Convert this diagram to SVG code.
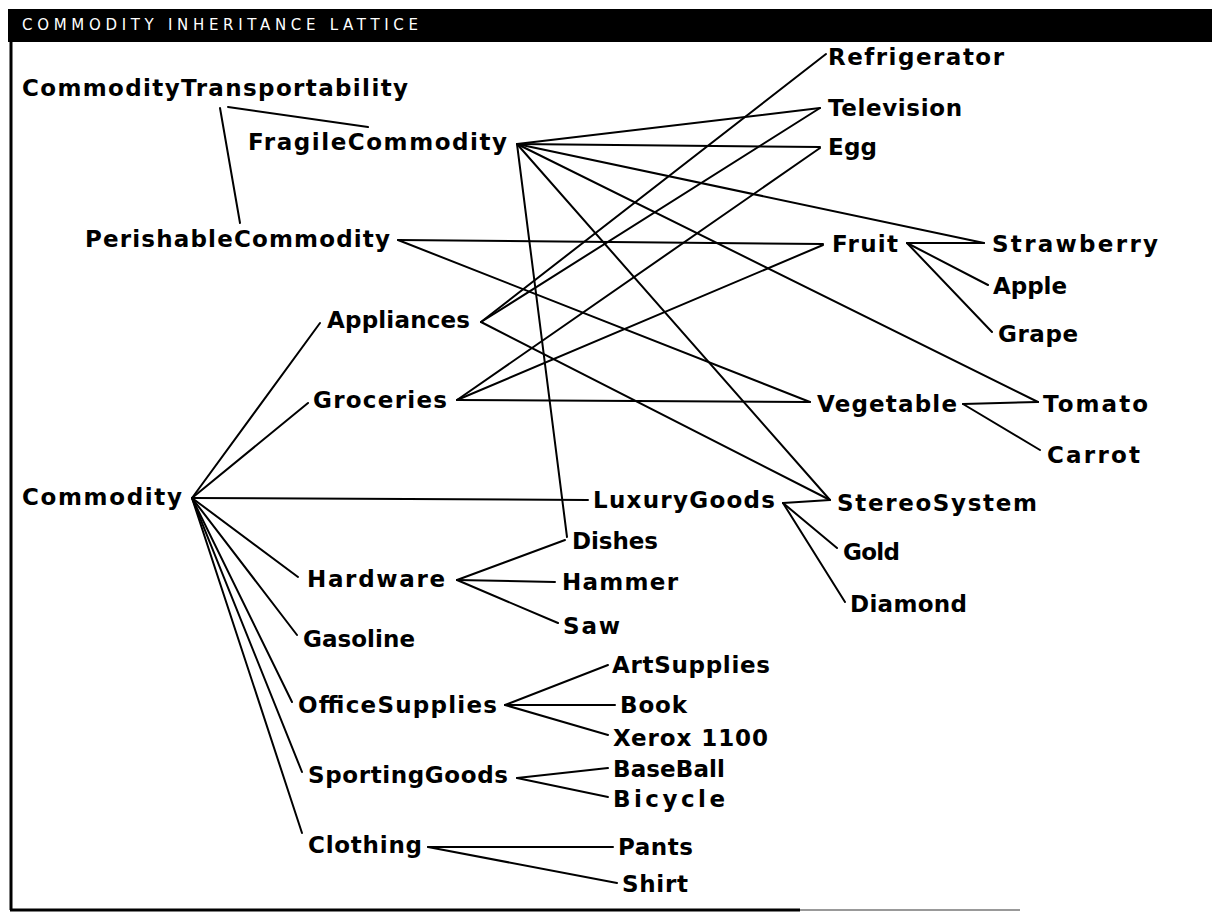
<svg xmlns="http://www.w3.org/2000/svg" width="1212" height="914" viewBox="0 0 1212 914">
<style>
.n{font-family:"DejaVu Sans","Liberation Sans",Arial,sans-serif;font-weight:bold;font-size:23px;fill:#000}
.t{font-family:"DejaVu Sans","Liberation Sans",Arial,sans-serif;font-size:15px;fill:#fff}
#edges line{stroke:#000;stroke-width:2;stroke-linecap:round}
</style>
<rect width="1212" height="914" fill="#fff"/>
<g id="frame">
<rect x="8" y="9" width="1204" height="33" fill="#000"/>
<text class="t" x="22" y="30" textLength="396" lengthAdjust="spacing">COMMODITY INHERITANCE LATTICE</text>
<line x1="11" y1="40" x2="11" y2="910" stroke="#000" stroke-width="3"/>
<line x1="10" y1="910" x2="800" y2="910" stroke="#000" stroke-width="3"/>
<line x1="800" y1="910" x2="1020" y2="910" stroke="#999" stroke-width="2"/>
</g>
<g id="edges">
<line x1="228" y1="107" x2="368" y2="127"/>
<line x1="220" y1="108" x2="240" y2="223"/>
<line x1="517" y1="144" x2="820" y2="108"/>
<line x1="517" y1="144" x2="820" y2="147"/>
<line x1="517" y1="144" x2="984" y2="243"/>
<line x1="517" y1="144" x2="1038" y2="402"/>
<line x1="517" y1="144" x2="830" y2="500"/>
<line x1="517" y1="144" x2="567" y2="537"/>
<line x1="398" y1="240" x2="823" y2="244"/>
<line x1="398" y1="240" x2="810" y2="402"/>
<line x1="481" y1="322" x2="826" y2="54"/>
<line x1="481" y1="322" x2="820" y2="108"/>
<line x1="481" y1="322" x2="830" y2="500"/>
<line x1="457" y1="400" x2="820" y2="148"/>
<line x1="457" y1="400" x2="823" y2="245"/>
<line x1="457" y1="400" x2="810" y2="402"/>
<line x1="907" y1="243" x2="984" y2="243"/>
<line x1="907" y1="243" x2="988" y2="285"/>
<line x1="907" y1="243" x2="992" y2="332"/>
<line x1="963" y1="404" x2="1038" y2="402"/>
<line x1="963" y1="404" x2="1040" y2="450"/>
<line x1="192" y1="498" x2="320" y2="323"/>
<line x1="192" y1="498" x2="308" y2="403"/>
<line x1="192" y1="498" x2="588" y2="500"/>
<line x1="192" y1="498" x2="298" y2="577"/>
<line x1="192" y1="498" x2="297" y2="635"/>
<line x1="192" y1="498" x2="292" y2="702"/>
<line x1="192" y1="498" x2="302" y2="772"/>
<line x1="192" y1="498" x2="302" y2="833"/>
<line x1="783" y1="503" x2="830" y2="500"/>
<line x1="783" y1="503" x2="837" y2="548"/>
<line x1="783" y1="503" x2="845" y2="602"/>
<line x1="457" y1="580" x2="565" y2="540"/>
<line x1="457" y1="580" x2="555" y2="582"/>
<line x1="457" y1="580" x2="558" y2="623"/>
<line x1="505" y1="705" x2="608" y2="665"/>
<line x1="505" y1="705" x2="615" y2="705"/>
<line x1="505" y1="705" x2="608" y2="735"/>
<line x1="517" y1="778" x2="608" y2="768"/>
<line x1="517" y1="778" x2="608" y2="797"/>
<line x1="428" y1="847" x2="613" y2="847"/>
<line x1="428" y1="847" x2="617" y2="883"/>
</g>
<g id="CommodityTransportability"><text class="n" x="22" y="96" textLength="386" lengthAdjust="spacing">CommodityTransportability</text></g>
<g id="FragileCommodity"><text class="n" x="248" y="150" textLength="259" lengthAdjust="spacing">FragileCommodity</text></g>
<g id="PerishableCommodity"><text class="n" x="85" y="247" textLength="305" lengthAdjust="spacing">PerishableCommodity</text></g>
<g id="Refrigerator"><text class="n" x="828" y="65" textLength="176" lengthAdjust="spacing">Refrigerator</text></g>
<g id="Television"><text class="n" x="828" y="116" textLength="134" lengthAdjust="spacing">Television</text></g>
<g id="Egg"><text class="n" x="828" y="155" textLength="49" lengthAdjust="spacing">Egg</text></g>
<g id="Fruit"><text class="n" x="832" y="252" textLength="66" lengthAdjust="spacing">Fruit</text></g>
<g id="Strawberry"><text class="n" x="992" y="252" textLength="166" lengthAdjust="spacing">Strawberry</text></g>
<g id="Apple"><text class="n" x="993" y="294" textLength="74" lengthAdjust="spacing">Apple</text></g>
<g id="Grape"><text class="n" x="998" y="342" textLength="80" lengthAdjust="spacing">Grape</text></g>
<g id="Appliances"><text class="n" x="327" y="328" textLength="143" lengthAdjust="spacing">Appliances</text></g>
<g id="Groceries"><text class="n" x="313" y="408" textLength="134" lengthAdjust="spacing">Groceries</text></g>
<g id="Vegetable"><text class="n" x="817" y="412" textLength="140" lengthAdjust="spacing">Vegetable</text></g>
<g id="Tomato"><text class="n" x="1043" y="412" textLength="105" lengthAdjust="spacing">Tomato</text></g>
<g id="Carrot"><text class="n" x="1047" y="463" textLength="93" lengthAdjust="spacing">Carrot</text></g>
<g id="Commodity"><text class="n" x="22" y="505" textLength="160" lengthAdjust="spacing">Commodity</text></g>
<g id="LuxuryGoods"><text class="n" x="593" y="508" textLength="182" lengthAdjust="spacing">LuxuryGoods</text></g>
<g id="StereoSystem"><text class="n" x="837" y="511" textLength="200" lengthAdjust="spacing">StereoSystem</text></g>
<g id="Dishes"><text class="n" x="572" y="549" textLength="86" lengthAdjust="spacing">Dishes</text></g>
<g id="Hardware"><text class="n" x="307" y="587" textLength="138" lengthAdjust="spacing">Hardware</text></g>
<g id="Hammer"><text class="n" x="562" y="590" textLength="116" lengthAdjust="spacing">Hammer</text></g>
<g id="Gold"><text class="n" x="843" y="560" textLength="57" lengthAdjust="spacing">Gold</text></g>
<g id="Diamond"><text class="n" x="850" y="612" textLength="117" lengthAdjust="spacing">Diamond</text></g>
<g id="Saw"><text class="n" x="563" y="634" textLength="57" lengthAdjust="spacing">Saw</text></g>
<g id="Gasoline"><text class="n" x="303" y="647" textLength="112" lengthAdjust="spacing">Gasoline</text></g>
<g id="ArtSupplies"><text class="n" x="612" y="673" textLength="158" lengthAdjust="spacing">ArtSupplies</text></g>
<g id="OfficeSupplies"><text class="n" x="298" y="713" textLength="199" lengthAdjust="spacing">OfficeSupplies</text></g>
<g id="Book"><text class="n" x="620" y="713" textLength="67" lengthAdjust="spacing">Book</text></g>
<g id="Xerox1100"><text class="n" x="613" y="746" textLength="155" lengthAdjust="spacing">Xerox 1100</text></g>
<g id="SportingGoods"><text class="n" x="308" y="783" textLength="200" lengthAdjust="spacing">SportingGoods</text></g>
<g id="BaseBall"><text class="n" x="613" y="777" textLength="112" lengthAdjust="spacing">BaseBall</text></g>
<g id="Bicycle"><text class="n" x="613" y="807" textLength="112" lengthAdjust="spacing">Bicycle</text></g>
<g id="Clothing"><text class="n" x="308" y="853" textLength="114" lengthAdjust="spacing">Clothing</text></g>
<g id="Pants"><text class="n" x="618" y="855" textLength="75" lengthAdjust="spacing">Pants</text></g>
<g id="Shirt"><text class="n" x="622" y="892" textLength="66" lengthAdjust="spacing">Shirt</text></g>
</svg>
